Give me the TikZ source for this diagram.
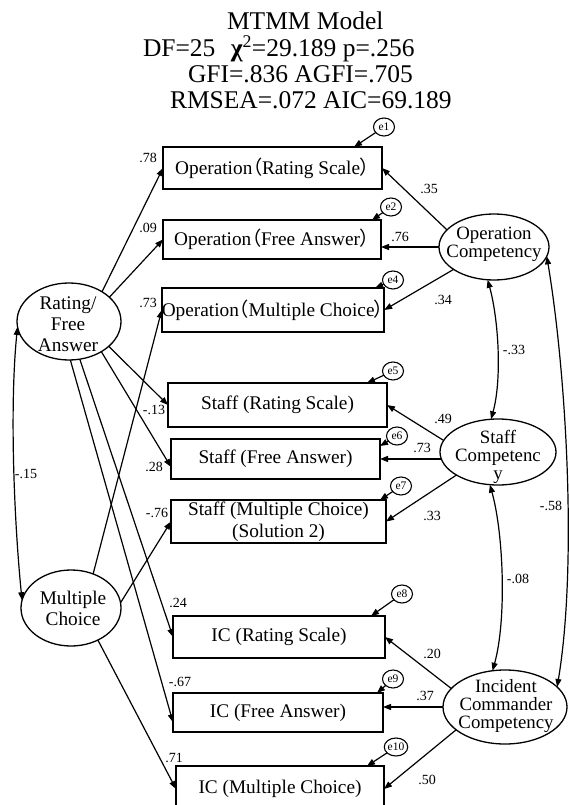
\documentclass[tikz,border=0pt]{standalone}
\usepackage{fontspec}
\setmainfont{Liberation Serif}
\newfontfamily\cjkfont[RawFeature=+palt]{Noto Sans CJK JP}
\usetikzlibrary{arrows.meta,calc,shapes.geometric}
\newcommand\flp{{\cjkfont （}}
\newcommand\frp{{\cjkfont ）}}
\begin{document}
\begin{tikzpicture}[x=1pt,y=-1pt,
  every node/.style={inner sep=0pt, outer sep=0pt},
  obs/.style={draw, line width=1.5pt, rectangle, font=\fontsize{19.3}{22}\selectfont, align=center},
  lat/.style={draw, line width=1.3pt, ellipse},
  lattxt/.style={font=\fontsize{18.8}{18}\selectfont, align=center},
  lattxtw/.style={font=\fontsize{19.3}{21}\selectfont, align=center},
  err/.style={draw, line width=1.1pt, ellipse, minimum width=21pt, minimum height=18pt, font=\fontsize{11.5}{12}\selectfont},
  coef/.style={font=\fontsize{14}{14}\selectfont},
  ttl/.style={font=\fontsize{25.5}{26}\selectfont, anchor=base west},
  regarrow/.style={line width=1.2pt, -{Triangle[length=8pt,width=6pt]}},
  covarrow/.style={line width=1.2pt, {Triangle[length=8pt,width=6pt]}-{Triangle[length=8pt,width=6pt]}},
]
\useasboundingbox (0,0) rectangle (569,805);
\fill[white] (0,0) rectangle (569,805);
\clip (0,0) rectangle (569,805);

% title
\node[ttl] (t1) at (227,30) {MTMM Model};
\node[ttl] (t2) at (143,57) {DF=25\hspace{0.6em}{\bfseries χ}\textsuperscript{2}=29.189 p=.256};
\node[ttl] (t3) at (188,83) {GFI=.836 AGFI=.705};
\node[ttl] (t4) at (170,109) {RMSEA=.072 AIC=69.189};

% observed boxes
\node[obs, minimum width=219pt, minimum height=42pt] (b1) at (272.5,168) {Operation\flp Rating Scale\frp};
\node[obs, minimum width=218pt, minimum height=39pt] (b2) at (272,239.5) {Operation\flp Free Answer\frp};
\node[obs, minimum width=222pt, minimum height=44pt] (b3) at (273,310) {Operation\flp Multiple Choice\frp};
\node[obs, minimum width=219pt, minimum height=44pt] (b4) at (277.5,405) {Staff (Rating Scale)};
\node[obs, minimum width=209pt, minimum height=40pt] (b5) at (275.5,459) {Staff (Free Answer)};
\node[obs, minimum width=215pt, minimum height=43pt] (b6) at (278.5,521.5) {Staff (Multiple Choice)\\(Solution 2)};
\node[obs, minimum width=212pt, minimum height=42pt] (b7) at (279,637) {IC (Rating Scale)};
\node[obs, minimum width=210pt, minimum height=39pt] (b8) at (278,712.5) {IC (Free Answer)};
\node[obs, minimum width=208pt, minimum height=46pt] (b9) at (280,789) {IC (Multiple Choice)};

% latent ellipses
\node[lat, minimum width=110pt, minimum height=66pt] (op) at (494,247) {};
\node[lattxt] (optxt) at (494,244.5) {Operation\\Competency};
\node[lat, minimum width=116pt, minimum height=66pt] (st) at (498,452) {};
\node[lattxt] (sttxt) at (498,456.5) {Staff\\Competenc\\y};
\node[lat, minimum width=124pt, minimum height=74pt] (ic) at (505,707) {};
\node[lattxt] (ictxt) at (506,706) {Incident\\Commander\\Competency};
\node[lat, minimum width=104pt, minimum height=77pt] (rf) at (69,321.5) {};
\node[lattxtw] (rftxt) at (68,324) {Rating/\\Free\\Answer};
\node[lat, minimum width=100pt, minimum height=76pt] (mc) at (71,608) {};
\node[lattxtw] (mctxt) at (73,608) {Multiple\\Choice};

% error terms
\node[err] (e1) at (384,127) {e1};
\node[err] (e2) at (391,207) {e2};
\node[err] (e4) at (393,280) {e4};
\node[err] (e5) at (393,371) {e5};
\node[err] (e6) at (397,436) {e6};
\node[err] (e7) at (401,486) {e7};
\node[err] (e8) at (402,594) {e8};
\node[err] (e9) at (393,679) {e9};
\node[err] (e10) at (396,747) {e10};

% trait paths
\draw[regarrow] (op.160) -- (b1.east);
\draw[regarrow] (op.west) -- (op.west -| b2.east);
\draw[regarrow] (op.209) -- (b3.east);
\draw[regarrow] (st.168) -- (b4.east);
\draw[regarrow] (st.187) -- (st.187 -| b5.east);
\draw[regarrow] (st.209) -- (b6.east);
\draw[regarrow] (ic.161) -- (b7.east);
\draw[regarrow] (ic.west) -- (ic.west -| b8.east);
\draw[regarrow] (ic.205) -- (b9.east);

% method paths
\draw[regarrow] (rf.42) -- (b1.west);
\draw[regarrow] (rf.31) -- (b2.west);
\draw[regarrow] (rf.328) -- (b4.west);
\draw[regarrow] (rf.317) -- ($(b5.south west)!0.3!(b5.north west)$);
\draw[regarrow] (rf.286) -- (b7.west);
\draw[regarrow] (rf.272) -- ($(b8.south west)!0.25!(b8.north west)$);
\draw[regarrow] (mc.57) -- (b3.west);
\draw[regarrow] (mc.6) -- (b6.west);
\draw[regarrow] (mc.310) -- (b9.west);

% covariances
\draw[covarrow] (rf.186) .. controls ($(rf.186)+(-8,80)$) and ($(mc.171)+(-8,-80)$) .. (mc.171);
\draw[covarrow] (op.259) .. controls ($(op.259)+(11,40)$) and ($(st.102)+(11,-40)$) .. (st.102);
\draw[covarrow] (st.256) .. controls ($(st.256)+(14,50)$) and ($(ic.109)+(14,-50)$) .. (ic.109);
\draw[covarrow] (op.350) .. controls ($(op.350)+(20,120)$) and ($(ic.21)+(20,-120)$) .. (ic.21);

% error arrows
\draw[regarrow] (e1) -- ($(b1.north east)+(-28,0)$);
\draw[regarrow] (e2) -- ($(b2.north east)+(-9,0)$);
\draw[regarrow] (e4) -- ($(b3.north east)+(-9,0)$);
\draw[regarrow] (e5) -- ($(b4.north east)+(-20,0)$);
\draw[regarrow] (e6) -- ($(b5.north east)+(0,7)$);
\draw[regarrow] (e7) -- ($(b6.north east)+(-6,0)$);
\draw[regarrow] (e8) -- ($(b7.north east)+(-14,0)$);
\draw[regarrow] (e9) -- ($(b8.north east)+(-6,0)$);
\draw[regarrow] (e10) -- ($(b9.north east)+(-17,0)$);

% coefficients
\node[coef] (c1) at (148,158) {.78};
\node[coef] (c2) at (148,228) {.09};
\node[coef] (c3) at (148,303) {.73};
\node[coef] (c4) at (429,189) {.35};
\node[coef] (c5) at (400,237) {.76};
\node[coef] (c6) at (443,300) {.34};
\node[coef] (c7) at (154,410) {-.13};
\node[coef] (c8) at (154,467) {.28};
\node[coef] (c9) at (157,513) {-.76};
\node[coef] (c10) at (26,474) {-.15};
\node[coef] (c11) at (443,419) {.49};
\node[coef] (c12) at (422,448) {.73};
\node[coef] (c13) at (432,516) {.33};
\node[coef] (c14) at (514,350) {-.33};
\node[coef] (c15) at (551,506) {-.58};
\node[coef] (c16) at (178,603) {.24};
\node[coef] (c17) at (180,682) {-.67};
\node[coef] (c18) at (174,758) {.71};
\node[coef] (c19) at (518,579) {-.08};
\node[coef] (c20) at (432,654) {.20};
\node[coef] (c21) at (425,696) {.37};
\node[coef] (c22) at (427,780) {.50};
\end{tikzpicture}
\end{document}
